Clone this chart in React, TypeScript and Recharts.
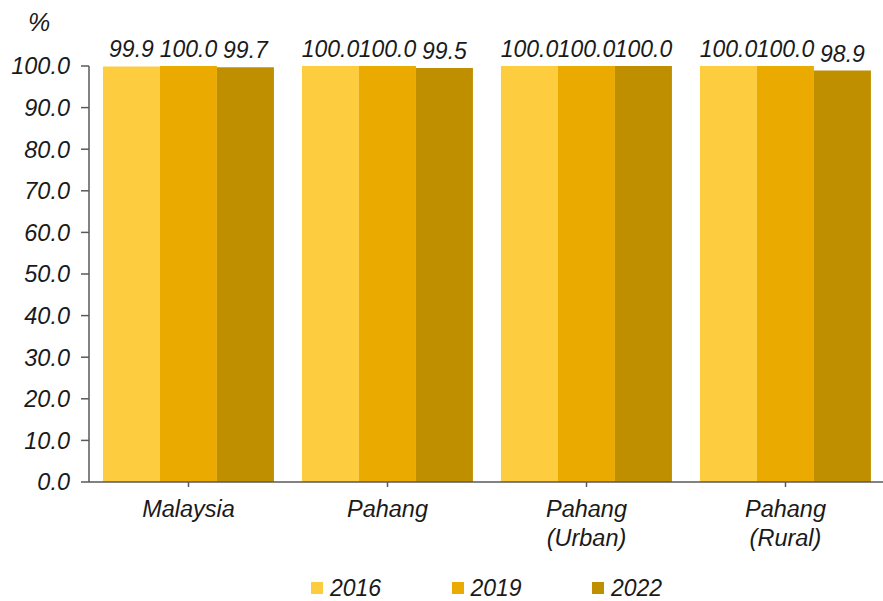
import React from 'react';
import { BarChart, Bar, XAxis, YAxis, Legend, LabelList } from 'recharts';

const categories = ['Malaysia', 'Pahang', 'Pahang\n(Urban)', 'Pahang\n(Rural)'];
const values2016 = [99.9, 100.0, 100.0, 100.0];
const values2019 = [100.0, 100.0, 100.0, 100.0];
const values2022 = [99.7, 99.5, 100.0, 98.9];
const yTicks = [0, 10, 20, 30, 40, 50, 60, 70, 80, 90, 100];
const seriesNames = ['2016', '2019', '2022'];
const seriesColors = ['#FDCD3F', '#EAAA00', '#BF8F00'];

const data = categories.map((c, i) => ({
  name: c,
  y2016: values2016[i],
  y2019: values2019[i],
  y2022: values2022[i],
}));

const FONT = '"Liberation Sans", Arial, sans-serif';
const TEXT_COLOR = '#1a1a1a';
const AXIS_COLOR = '#595959';

const CategoryTick = (props: any) => {
  const { x, y, payload } = props;
  const lines = String(payload.value).split('\n');
  return (
    <text
      x={x}
      y={y}
      textAnchor="middle"
      fontFamily={FONT}
      fontStyle="italic"
      fontSize={23.5}
      fill={TEXT_COLOR}
    >
      {lines.map((l, i) => (
        <tspan key={i} x={x} dy={i === 0 ? 0 : 29}>
          {l}
        </tspan>
      ))}
    </text>
  );
};

const renderLegend = () => (
  <div
    style={{
      display: 'flex',
      justifyContent: 'flex-start',
      paddingLeft: 311,
      fontFamily: FONT,
      fontStyle: 'italic',
      fontSize: 23,
      lineHeight: '22px',
      height: 22,
      color: TEXT_COLOR,
    }}
  >
    {seriesNames.map((n, i) => (
      <div key={n} style={{ display: 'flex', alignItems: 'center', width: 140.5 }}>
        <span
          style={{
            display: 'inline-block',
            width: 12,
            height: 12,
            background: seriesColors[i],
            marginRight: 7,
          }}
        />
        <span>{n}</span>
      </div>
    ))}
  </div>
);

const PercentLabel = (props: any) => {
  const vb = props.viewBox || { x: 0, y: 0 };
  return (
    <text
      x={vb.x + 39}
      y={vb.y - 35}
      textAnchor="middle"
      fontFamily={FONT}
      fontStyle="italic"
      fontSize={25}
      fill={TEXT_COLOR}
    >
      %
    </text>
  );
};

export default function App() {
  const keys = ['y2016', 'y2019', 'y2022'];
  return (
    <div
      style={{
        position: 'absolute',
        left: 0,
        top: 0,
        width: 883,
        height: 601,
        overflow: 'hidden',
        background: '#ffffff',
      }}
    >
      <BarChart
        width={890}
        height={601}
        data={data}
        margin={{ top: 66, right: 5, bottom: 59, left: 0 }}
        barCategoryGap="7%"
        barGap={0}
      >
        <XAxis
          dataKey="name"
          height={60}
          tick={<CategoryTick />}
          tickSize={5}
          tickMargin={30}
          axisLine={{ stroke: AXIS_COLOR, strokeWidth: 1.5 }}
          tickLine={{ stroke: AXIS_COLOR, strokeWidth: 1.5 }}
          interval={0}
        />
        <YAxis
          width={89}
          domain={[0, 100]}
          ticks={yTicks}
          interval={0}
          tickFormatter={(v: number) => v.toFixed(1)}
          tickSize={8}
          tickMargin={11}
          axisLine={{ stroke: AXIS_COLOR, strokeWidth: 1.5 }}
          tickLine={{ stroke: AXIS_COLOR, strokeWidth: 1.5 }}
          tick={{ fontFamily: FONT, fontStyle: 'italic', fontSize: 23.5, fill: TEXT_COLOR }}
          label={<PercentLabel />}
        />
        <Legend
          layout="horizontal"
          verticalAlign="middle"
          align="center"
          content={renderLegend}
          wrapperStyle={{ top: 577, left: 0, width: 883, height: 22 }}
        />
        {keys.map((k, i) => (
          <Bar key={k} dataKey={k} name={seriesNames[i]} fill={seriesColors[i]} isAnimationActive={false}>
            <LabelList
              dataKey={k}
              position="top"
              offset={9}
              formatter={(v: any) => Number(v).toFixed(1)}
              style={{ fontFamily: FONT, fontStyle: 'italic', fontSize: 23, fill: TEXT_COLOR }}
            />
          </Bar>
        ))}
      </BarChart>
    </div>
  );
}
